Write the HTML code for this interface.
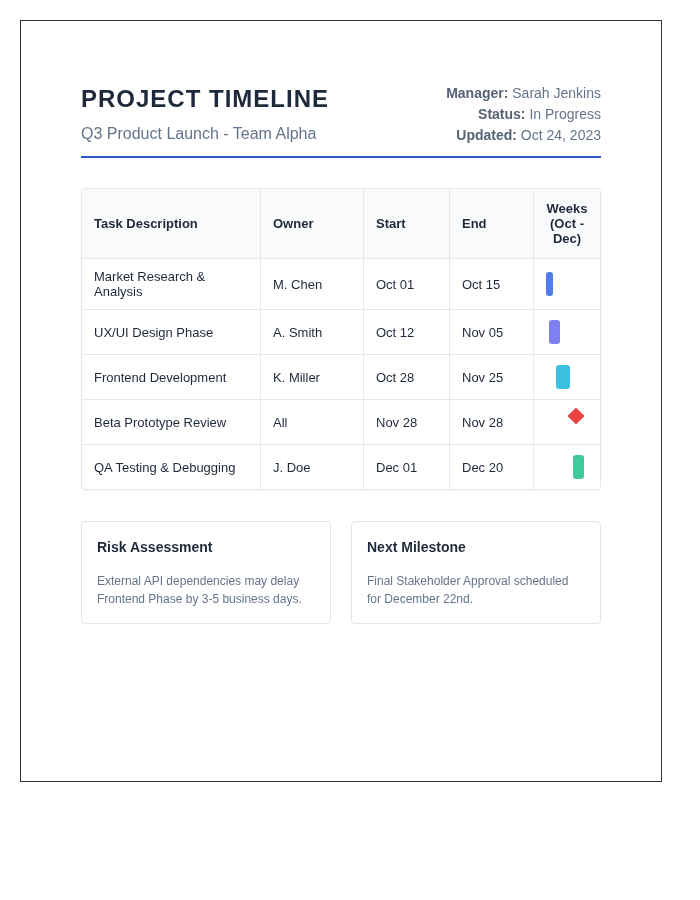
<!DOCTYPE html>
<html>
<head>
<meta charset="utf-8">
<style>
*{box-sizing:border-box;}
html,body{margin:0;padding:0;background:#fff;}
body{font-family:"Liberation Sans",Arial,sans-serif;color:#1e293b;width:700px;height:900px;overflow:hidden;position:relative;}
.page{will-change:transform;position:absolute;left:20px;top:20px;width:642px;height:762px;border:1px solid #333;padding:60px;background:#fff;}
.header{position:relative;height:77px;border-bottom:2px solid #3058cd;}
h1{position:absolute;left:0;top:4px;margin:0;font-size:24px;font-weight:bold;letter-spacing:1px;color:#1e293b;line-height:28px;white-space:nowrap;}
.sub{position:absolute;left:0;top:43px;font-size:16px;color:#64748b;line-height:20px;white-space:nowrap;}
.meta{position:absolute;right:0;top:2px;text-align:right;font-size:14px;line-height:21px;color:#64748b;white-space:nowrap;}
.meta b{color:#566375;}
.tw{margin-top:30px;border:1px solid #e5e7eb;border-radius:4px;overflow:hidden;box-shadow:0 1px 2px rgba(0,0,0,0.05);}
table{border-collapse:separate;border-spacing:0;width:518px;table-layout:fixed;font-size:13px;}
th,td{border:0;border-right:1px solid #e5e7eb;border-bottom:1px solid #e5e7eb;text-align:left;padding:10px 12px;}
th:last-child,td:last-child{border-right:0;}
tr:last-child td{border-bottom:0;height:44px;}
th{background:#f9fafb;font-weight:bold;height:70px;color:#1e293b;}
td{height:45px;color:#1e293b;}
.tl{position:relative;height:24px;}
.bar{position:absolute;top:0;height:24px;border-radius:3px;}
.cards{display:flex;gap:20px;margin-top:31px;}
.card{flex:1;border:1px solid #e5e5e5;border-radius:4px;padding:15px 15px;height:103px;}
.card h3{margin:0;font-size:14px;font-weight:bold;color:#1e293b;line-height:20px;}
.card p{margin:15px 0 0;font-size:12px;line-height:18px;color:#64748b;}
</style>
</head>
<body>
<div class="page">
  <div class="header">
    <h1>PROJECT TIMELINE</h1>
    <div class="sub">Q3 Product Launch - Team Alpha</div>
    <div class="meta">
      <div><b>Manager:</b> Sarah Jenkins</div>
      <div><b>Status:</b> In Progress</div>
      <div><b>Updated:</b> Oct 24, 2023</div>
    </div>
  </div>
  <div class="tw"><table><colgroup><col style="width:179px"><col style="width:103px"><col style="width:86px"><col style="width:84px"><col></colgroup>
    <tr><th>Task Description</th><th>Owner</th><th>Start</th><th>End</th><th style="text-align:center;padding:0 4px">Weeks<br>(Oct -<br>Dec)</th></tr>
    <tr style="height:51px"><td>Market Research &amp;<br>Analysis</td><td>M. Chen</td><td>Oct 01</td><td>Oct 15</td><td><div class="tl"><span class="bar" style="left:0;width:7px;background:#507de9"></span></div></td></tr>
    <tr><td>UX/UI Design Phase</td><td>A. Smith</td><td>Oct 12</td><td>Nov 05</td><td><div class="tl"><span class="bar" style="left:3px;width:11px;background:#7d80f0"></span></div></td></tr>
    <tr><td>Frontend Development</td><td>K. Miller</td><td>Oct 28</td><td>Nov 25</td><td><div class="tl"><span class="bar" style="left:10px;width:14px;background:#3bc1df"></span></div></td></tr>
    <tr><td>Beta Prototype Review</td><td>All</td><td>Nov 28</td><td>Nov 28</td><td><div class="tl"><span class="bar" style="left:24px;width:12px;height:12px;border-radius:1px;background:#ef4444;transform:rotate(45deg)"></span></div></td></tr>
    <tr><td>QA Testing &amp; Debugging</td><td>J. Doe</td><td>Dec 01</td><td>Dec 20</td><td><div class="tl"><span class="bar" style="left:27px;width:11px;background:#40c99a"></span></div></td></tr>
  </table></div>
  <div class="cards">
    <div class="card">
      <h3>Risk Assessment</h3>
      <p>External API dependencies may delay Frontend Phase by 3-5 business days.</p>
    </div>
    <div class="card">
      <h3>Next Milestone</h3>
      <p>Final Stakeholder Approval scheduled for December 22nd.</p>
    </div>
  </div>
</div>
</body>
</html>
